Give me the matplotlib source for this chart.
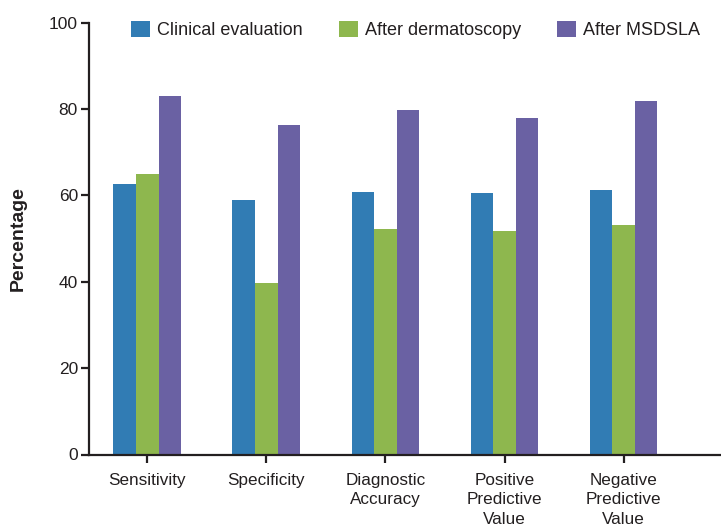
import matplotlib.pyplot as plt
import numpy as np

plt.rcParams['font.family'] = ['Liberation Sans', 'DejaVu Sans']

categories = ["Sensitivity", "Specificity", "Diagnostic\nAccuracy",
              "Positive\nPredictive\nValue", "Negative\nPredictive\nValue"]
clinical = [62.7, 59.0, 60.9, 60.6, 61.3]
dermatoscopy = [65.0, 39.8, 52.3, 51.8, 53.2]
msdsla = [83.0, 76.4, 79.8, 77.9, 81.9]
series_names = ["Clinical evaluation", "After dermatoscopy", "After MSDSLA"]
colors = ["#317CB4", "#8EB74E", "#6A61A3"]
yticks = [0, 20, 40, 60, 80, 100]

fig = plt.figure(figsize=(7.21, 5.27), dpi=100)
ax = fig.add_axes([89 / 721, 1 - 454.5 / 527, 631 / 721, (454.5 - 22.7) / 527])

x = np.arange(len(categories))
w = 0.19
for i, (vals, name, c) in enumerate(zip([clinical, dermatoscopy, msdsla], series_names, colors)):
    ax.bar(x + (i - 1) * w, vals, width=w, color=c, label=name, linewidth=0)

ax.set_xlim(-0.49, 4.81)
ax.set_ylim(0, 100)
ax.set_xticks(x)
ax.set_xticklabels(categories, fontsize=12.3, linespacing=1.4, color="#231F20")
ax.set_yticks(yticks)
ax.set_yticklabels([str(t) for t in yticks], fontsize=12.5, color="#231F20")

for s in ["top", "right"]:
    ax.spines[s].set_visible(False)
for s in ["left", "bottom"]:
    ax.spines[s].set_linewidth(1.6)
    ax.spines[s].set_color("#231F20")
ax.tick_params(axis="both", length=6, width=1.6, color="#231F20")
ax.tick_params(axis="x", pad=7)
ax.tick_params(axis="y", pad=2)

ax.set_ylabel("Percentage", fontsize=14, fontweight="bold", labelpad=16, color="#231F20")

fig.legend(loc="center left", bbox_to_anchor=(131 / 721, 1 - 30 / 527), ncol=3,
           frameon=False, fontsize=13, handlelength=1.05, handleheight=1.05,
           handletextpad=0.4, columnspacing=1.98, borderpad=0, borderaxespad=0,
           labelcolor="#231F20")

fig.savefig("out.png", dpi=100)
